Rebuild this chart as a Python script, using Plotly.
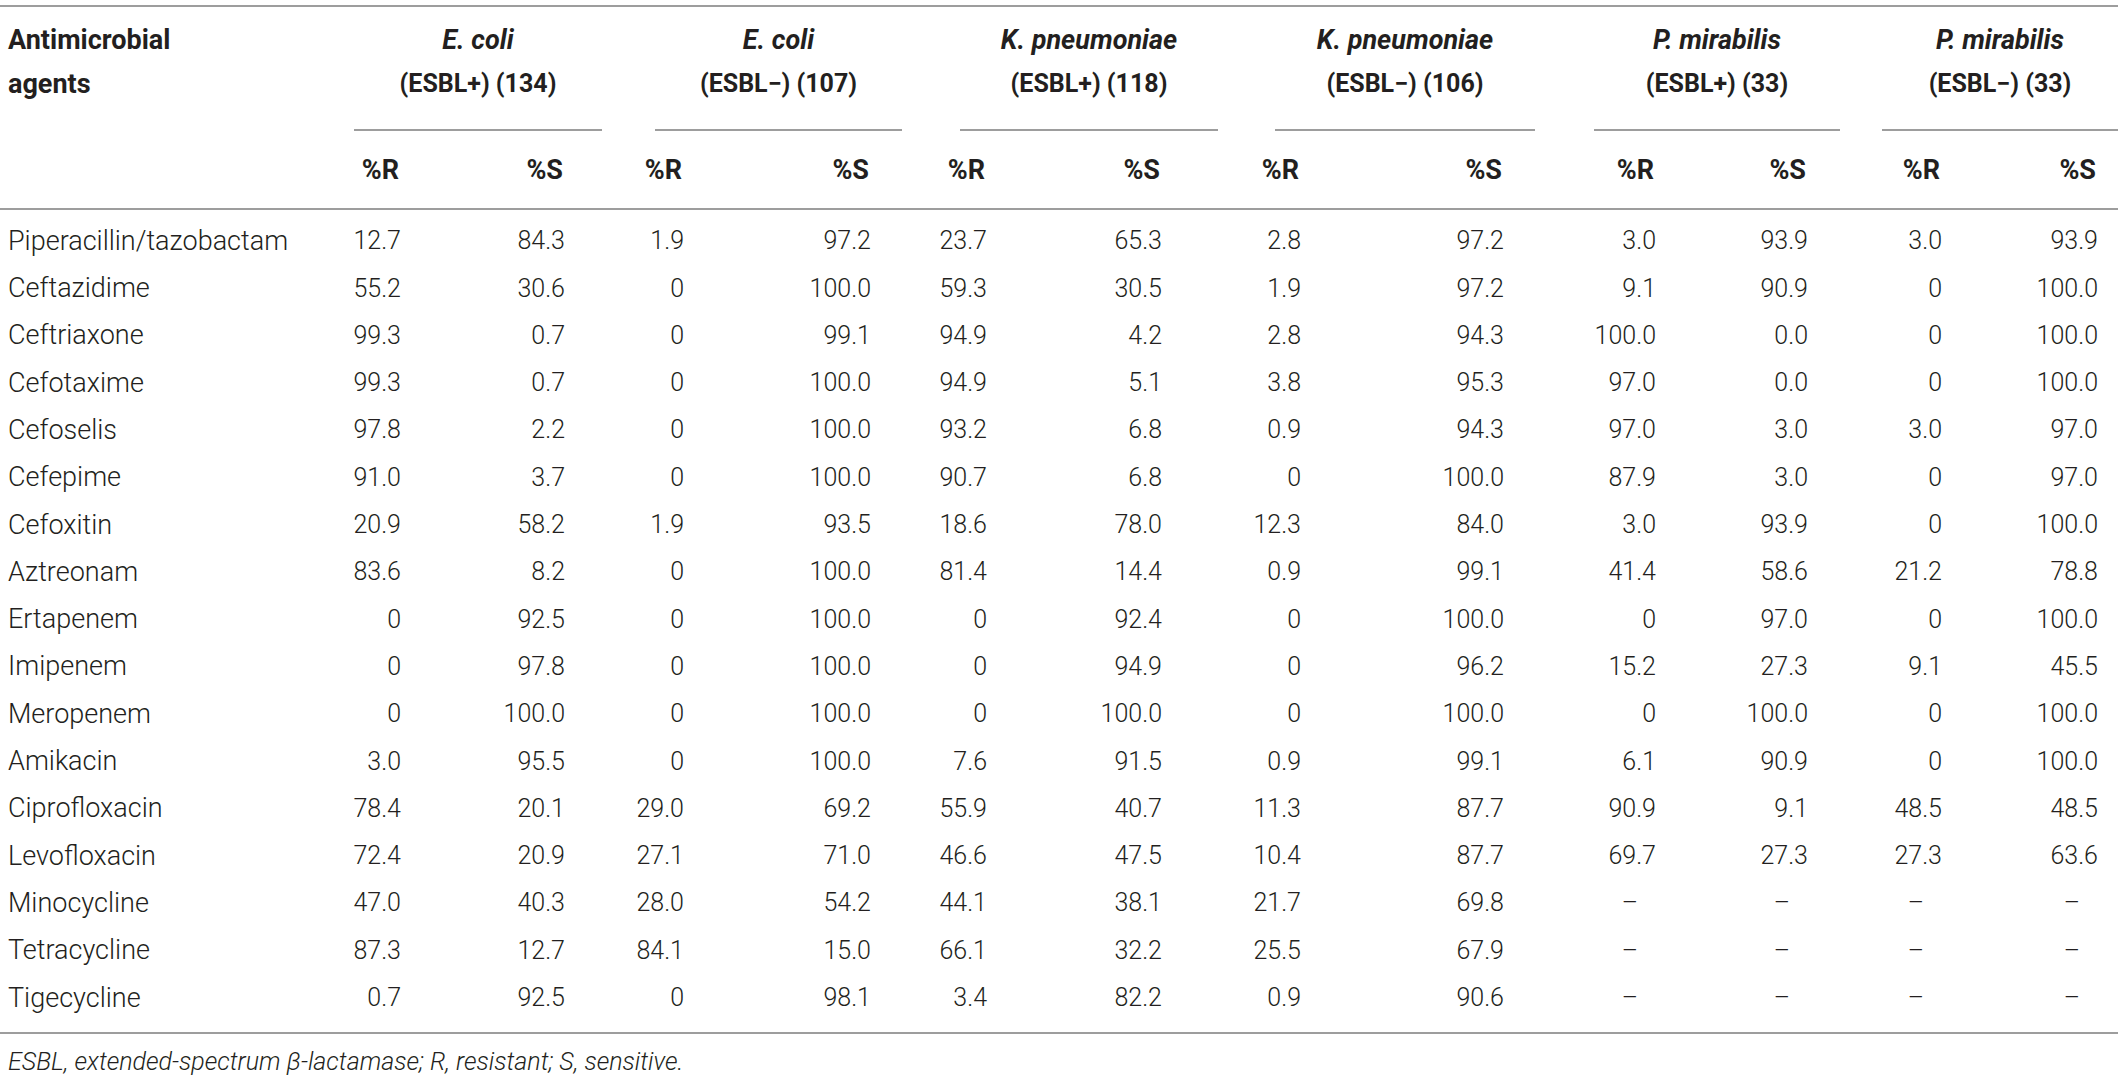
import plotly.graph_objects as go

# ---------------- data ----------------
agents = ["Piperacillin/tazobactam", "Ceftazidime", "Ceftriaxone", "Cefotaxime", "Cefoselis",
          "Cefepime", "Cefoxitin", "Aztreonam", "Ertapenem", "Imipenem", "Meropenem", "Amikacin",
          "Ciprofloxacin", "Levofloxacin", "Minocycline", "Tetracycline", "Tigecycline"]

species = ["E. coli", "E. coli", "K. pneumoniae", "K. pneumoniae", "P. mirabilis", "P. mirabilis"]
esbl = ["ESBL+", "ESBL\u2212", "ESBL+", "ESBL\u2212", "ESBL+", "ESBL\u2212"]
n_isolates = [134, 107, 118, 106, 33, 33]
sub_headers = ["%R", "%S"]

ecoli_pos_R = [12.7, 55.2, 99.3, 99.3, 97.8, 91.0, 20.9, 83.6, 0, 0, 0, 3.0, 78.4, 72.4, 47.0, 87.3, 0.7]
ecoli_pos_S = [84.3, 30.6, 0.7, 0.7, 2.2, 3.7, 58.2, 8.2, 92.5, 97.8, 100.0, 95.5, 20.1, 20.9, 40.3, 12.7, 92.5]
ecoli_neg_R = [1.9, 0, 0, 0, 0, 0, 1.9, 0, 0, 0, 0, 0, 29.0, 27.1, 28.0, 84.1, 0]
ecoli_neg_S = [97.2, 100.0, 99.1, 100.0, 100.0, 100.0, 93.5, 100.0, 100.0, 100.0, 100.0, 100.0, 69.2, 71.0, 54.2, 15.0, 98.1]
kpn_pos_R = [23.7, 59.3, 94.9, 94.9, 93.2, 90.7, 18.6, 81.4, 0, 0, 0, 7.6, 55.9, 46.6, 44.1, 66.1, 3.4]
kpn_pos_S = [65.3, 30.5, 4.2, 5.1, 6.8, 6.8, 78.0, 14.4, 92.4, 94.9, 100.0, 91.5, 40.7, 47.5, 38.1, 32.2, 82.2]
kpn_neg_R = [2.8, 1.9, 2.8, 3.8, 0.9, 0, 12.3, 0.9, 0, 0, 0, 0.9, 11.3, 10.4, 21.7, 25.5, 0.9]
kpn_neg_S = [97.2, 97.2, 94.3, 95.3, 94.3, 100.0, 84.0, 99.1, 100.0, 96.2, 100.0, 99.1, 87.7, 87.7, 69.8, 67.9, 90.6]
pmi_pos_R = [3.0, 9.1, 100.0, 97.0, 97.0, 87.9, 3.0, 41.4, 0, 15.2, 0, 6.1, 90.9, 69.7, None, None, None]
pmi_pos_S = [93.9, 90.9, 0.0, 0.0, 3.0, 3.0, 93.9, 58.6, 97.0, 27.3, 100.0, 90.9, 9.1, 27.3, None, None, None]
pmi_neg_R = [3.0, 0, 0, 0, 3.0, 0, 0, 21.2, 0, 9.1, 0, 0, 48.5, 27.3, None, None, None]
pmi_neg_S = [93.9, 100.0, 100.0, 100.0, 97.0, 97.0, 100.0, 78.8, 100.0, 45.5, 100.0, 100.0, 48.5, 63.6, None, None, None]

columns = [ecoli_pos_R, ecoli_pos_S, ecoli_neg_R, ecoli_neg_S, kpn_pos_R, kpn_pos_S,
           kpn_neg_R, kpn_neg_S, pmi_pos_R, pmi_pos_S, pmi_neg_R, pmi_neg_S]

footnote = "ESBL, extended-spectrum \u03b2-lactamase; R, resistant; S, sensitive."

# ---------------- layout (pixel-like units) ----------------
W, H = 2118, 1084
col_right = [401, 565, 684, 871, 987, 1162, 1301, 1504, 1656, 1808, 1942, 2098]
group_span = [(354, 602), (655, 902), (960, 1218), (1275, 1535), (1594, 1840), (1882, 2118)]
label_x = 8
y_top_rule = 6
y_head1 = 42
y_head2 = 86
y_group_rule = 130
y_sub = 172
y_head_rule = 209
y_row0 = 243
row_h = 47.3
y_bottom_rule = 1033
y_foot = 1064

TXT = "#231f20"
RULE = "#9d9d9d"
FONT = "Roboto"
FS_NUM = 24
FS_LABEL = 27
FS_HEAD = 26
FS_FOOT = 25


def fmt(v):
    if v is None:
        return "\u2013"
    if isinstance(v, int):
        return str(v)
    return f"{v:.1f}"


row_y = [y_row0 + i * row_h for i in range(len(agents))]

fig = go.Figure()

# agent labels
fig.add_trace(go.Scatter(
    x=[label_x] * len(agents), y=row_y, mode="text", text=agents,
    textposition="middle right",
    textfont=dict(family=FONT, size=FS_LABEL, color=TXT, weight=300),
    hoverinfo="skip", showlegend=False))

# numeric values (right aligned) and dashes (centered)
num_x, num_y, num_t = [], [], []
dash_x, dash_y = [], []
for ci, col in enumerate(columns):
    for ri, v in enumerate(col):
        if v is None:
            dash_x.append(col_right[ci] - 26)
            dash_y.append(row_y[ri])
        else:
            num_x.append(col_right[ci])
            num_y.append(row_y[ri])
            num_t.append(fmt(v))

fig.add_trace(go.Scatter(
    x=num_x, y=num_y, mode="text", text=num_t, textposition="middle left",
    textfont=dict(family=FONT, size=FS_NUM + 1, color=TXT, weight=300),
    hoverinfo="skip", showlegend=False))
fig.add_trace(go.Scatter(
    x=dash_x, y=dash_y, mode="text", text=["\u2013"] * len(dash_x), textposition="middle center",
    textfont=dict(family=FONT, size=FS_NUM + 1, color=TXT, weight=300),
    hoverinfo="skip", showlegend=False))

# header
fig.add_trace(go.Scatter(
    x=[label_x, label_x], y=[y_head1, y_head2], mode="text",
    text=["Antimicrobial", "agents"], textposition="middle right",
    textfont=dict(family=FONT, size=FS_HEAD + 1, color=TXT, weight=700),
    hoverinfo="skip", showlegend=False))

gx = [(a + b) / 2 for a, b in group_span]
fig.add_trace(go.Scatter(
    x=gx, y=[y_head1] * len(gx), mode="text",
    text=[f"<i>{s}</i>" for s in species], textposition="middle center",
    textfont=dict(family=FONT, size=FS_HEAD + 1, color=TXT, weight=700),
    hoverinfo="skip", showlegend=False))
fig.add_trace(go.Scatter(
    x=gx, y=[y_head2] * len(gx), mode="text",
    text=[f"({e}) ({n})" for e, n in zip(esbl, n_isolates)], textposition="middle center",
    textfont=dict(family=FONT, size=FS_HEAD - 1, color=TXT, weight=700),
    hoverinfo="skip", showlegend=False))
fig.add_trace(go.Scatter(
    x=[c - 2 for c in col_right], y=[y_sub] * len(col_right), mode="text",
    text=sub_headers * len(species), textposition="middle left",
    textfont=dict(family=FONT, size=FS_HEAD + 1, color=TXT, weight=700),
    hoverinfo="skip", showlegend=False))

# footnote
fig.add_trace(go.Scatter(
    x=[label_x], y=[y_foot], mode="text", text=[f"<i>{footnote}</i>"],
    textposition="middle right",
    textfont=dict(family=FONT, size=FS_FOOT, color=TXT, weight=300),
    hoverinfo="skip", showlegend=False))

# rules
shapes = []
for yy in (y_top_rule, y_head_rule, y_bottom_rule):
    shapes.append(dict(type="line", xref="x", yref="y", x0=0, x1=W, y0=yy, y1=yy,
                       line=dict(color=RULE, width=2)))
for a, b in group_span:
    shapes.append(dict(type="line", xref="x", yref="y", x0=a, x1=b, y0=y_group_rule, y1=y_group_rule,
                       line=dict(color=RULE, width=2)))

fig.update_layout(
    width=W, height=H, margin=dict(l=0, r=0, t=0, b=0),
    paper_bgcolor="white", plot_bgcolor="white",
    xaxis=dict(range=[0, W], visible=False, fixedrange=True),
    yaxis=dict(range=[H, 0], visible=False, fixedrange=True),
    shapes=shapes, showlegend=False)

fig.write_html("out.html", config={"displayModeBar": False, "staticPlot": True},
               post_script="document.body.style.margin='0';document.body.style.overflow='hidden';")
